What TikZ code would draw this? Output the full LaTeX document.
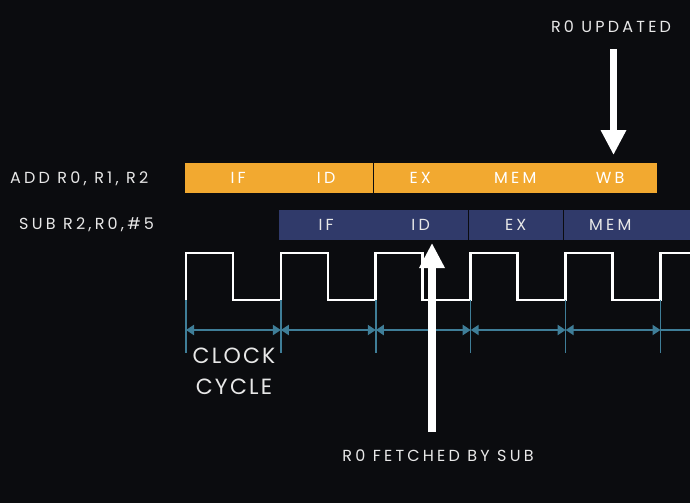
\documentclass[tikz,border=0pt]{standalone}
\usepackage{fontspec}
\setmainfont{Poppins}[LetterSpace=20]
\newfontfamily\clockfont{Poppins}[LetterSpace=10]
\usetikzlibrary{arrows.meta,positioning,calc}
\definecolor{bgdark}{RGB}{11,12,15}
\definecolor{stageorange}{RGB}{242,169,48}
\definecolor{stageblue}{RGB}{48,58,106}
\definecolor{clockteal}{RGB}{63,126,152}
\definecolor{labelgray}{RGB}{232,232,232}

\begin{document}
\begin{tikzpicture}[x=1pt, y=-1pt,
  stage/.style={minimum width=94pt, minimum height=30pt, inner sep=0pt,
                anchor=north west, font=\fontsize{16}{16}\selectfont},
  addstage/.style={stage, text=white},
  substage/.style={stage, text=labelgray},
  instr/.style={anchor=base west, inner sep=0pt, text=labelgray,
                font=\fontsize{16}{16}\selectfont},
  note/.style={anchor=base, inner sep=0pt, text=labelgray,
               font=\fontsize{16}{16}\selectfont},
  bigarrow/.style={white, line width=7.5pt, -{Triangle[length=25pt, width=24pt]}},
  span/.style={clockteal, line width=2pt,
               {Triangle[length=8pt, width=10pt]}-{Triangle[length=8pt, width=10pt]}},
  tickline/.style={clockteal, line width=1.5pt},
  wave/.style={white, line width=2.7pt, line join=miter}
]
\fill[bgdark] (0,0) rectangle (690,503);
\useasboundingbox (0,0) rectangle (690,503);

% instructions
\node[instr] (add) at (10,183) {ADD R0, R1, R2};
\node[instr] (sub) at (19,229) {SUB R2,R0,\#5};

% ADD pipeline
\fill[stageorange] (185,163) rectangle (657,193);
\node[addstage] (aif) at (191,163) {IF};
\node[addstage] (aid) at (279,163) {ID};
\node[addstage] (aex) at (373,163) {EX};
\node[addstage, minimum width=96pt] (amem) at (467,163) {MEM};
\node[addstage] (awb) at (563,163) {WB};
\draw[bgdark, line width=1pt] (aid.north east) -- (aid.south east);

% SUB pipeline
\fill[stageblue] (279,210) rectangle (690,240);
\node[substage] (sif) at (279,210) {IF};
\node[substage, minimum width=95pt] (sid) at (373,210) {ID};
\node[substage, minimum width=95pt] (sex) at (468,210) {EX};
\node[substage] (smem) at (563,210) {MEM};
\draw[bgdark, line width=1pt] (sid.north east) -- (sid.south east);
\draw[bgdark, line width=1pt] (sex.north east) -- (sex.south east);

% clock
\draw[wave] (186,300)
  \foreach \i in {0,...,4} {
    -- ++(0,-47) -- ++(47,0) -- ++(0,47) -- ++(47.9,0)
  } -- ++(0,-47) -- (690,253);
\foreach \i in {0,...,5} {
  \coordinate (c\i) at (186+94.9*\i,330);
  \draw[tickline] (186+94.9*\i,300) -- (186+94.9*\i,353);
}
\coordinate (cend) at (690,330);
\foreach \i/\j in {0/1,1/2,2/3,3/4,4/5}
  \draw[span] (c\i) -- (c\j);
\draw[span, -] (c5) -- (cend);

\node[note, font=\clockfont\fontsize{22}{22}\selectfont] (clock) at (234,363) {CLOCK};
\node[note, font=\clockfont\fontsize{22}{22}\selectfont] (cycle) at (234,394) {CYCLE};

% hazard markers
\node[note] (updated) at (611,33) {R0 UPDATED};
\coordinate (updtail) at (613.5,49);
\coordinate (updtip) at (613.5,155);
\draw[bigarrow] (updtail) -- (updtip);

\node[note] (fetched) at (438,461) {R0 FETCHED BY SUB};
\coordinate (fettail) at (432,432);
\coordinate (fettip) at (432,243);
\draw[bigarrow] (fettail) -- (fettip);
\end{tikzpicture}
\end{document}
